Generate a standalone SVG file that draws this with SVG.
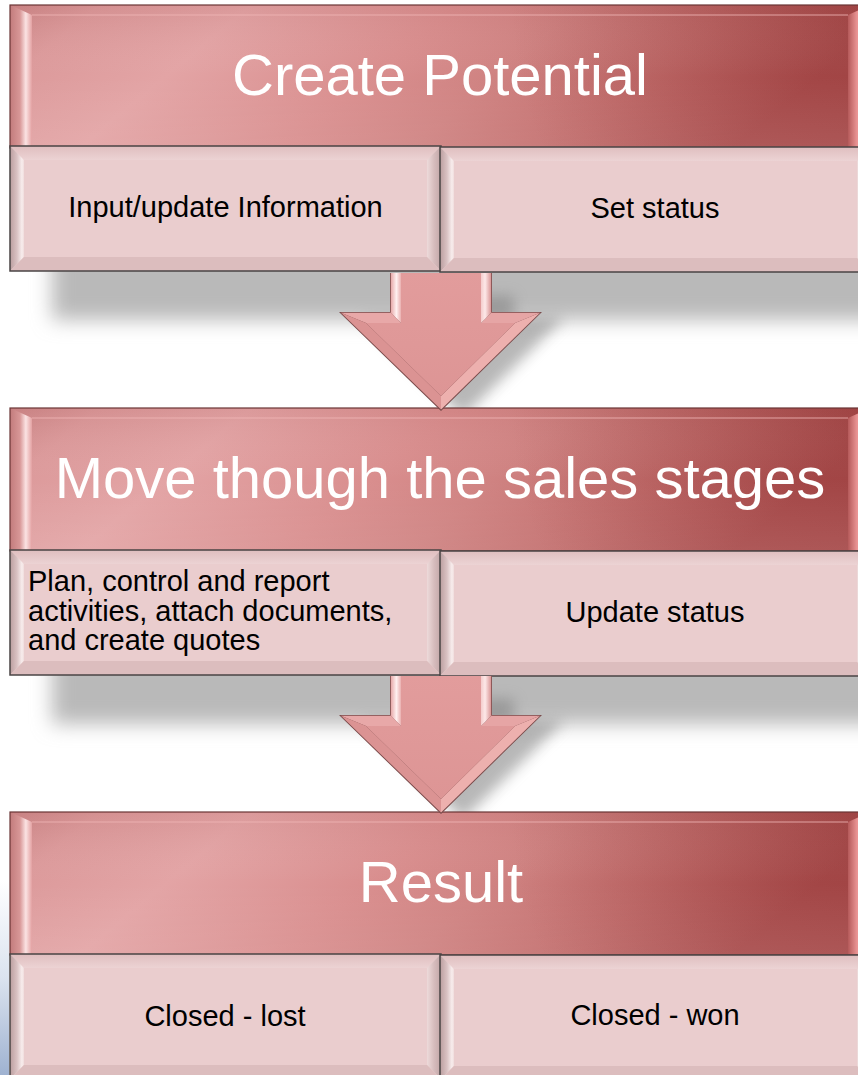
<svg xmlns="http://www.w3.org/2000/svg" width="858" height="1075" viewBox="0 0 858 1075">
<defs>
<style>
.hdr-text{font-family:"Liberation Sans",Arial,sans-serif;font-size:58px;fill:#ffffff;text-anchor:middle}
.sub-text{font-family:"Liberation Sans",Arial,sans-serif;font-size:29px;fill:#000000;text-anchor:middle}
.sub-left{text-anchor:start}
</style>
<linearGradient id="hdrGrad" x1="0" y1="0" x2="1" y2="0.2">
<stop offset="0" stop-color="#cf8a8b"/>
<stop offset="0.1" stop-color="#dc9a9b"/>
<stop offset="0.27" stop-color="#e3a4a5"/>
<stop offset="0.5" stop-color="#d98e8e"/>
<stop offset="0.64" stop-color="#cf8281"/>
<stop offset="0.82" stop-color="#c16b6a"/>
<stop offset="1" stop-color="#b05252"/>
</linearGradient>
<radialGradient id="hdrCorner" gradientUnits="userSpaceOnUse" cx="860" cy="0" r="360">
<stop offset="0" stop-color="#7e2424" stop-opacity="0.35"/>
<stop offset="1" stop-color="#7e2424" stop-opacity="0"/>
</radialGradient>
<linearGradient id="hdrShade" x1="0" y1="0" x2="0" y2="1">
<stop offset="0" stop-color="#7a1f1f" stop-opacity="0.08"/>
<stop offset="0.5" stop-color="#ffffff" stop-opacity="0"/>
<stop offset="1" stop-color="#ffffff" stop-opacity="0.08"/>
</linearGradient>
<linearGradient id="hdrLeft" x1="0" y1="0" x2="1" y2="0">
<stop offset="0" stop-color="#c27b7c"/>
<stop offset="0.45" stop-color="#d89797"/>
<stop offset="0.72" stop-color="#fbe3e3"/>
<stop offset="1" stop-color="#e3a1a2"/>
</linearGradient>
<linearGradient id="hdrRight" x1="0" y1="0" x2="1" y2="0">
<stop offset="0" stop-color="#b55a5a"/>
<stop offset="0.4" stop-color="#e89292"/>
<stop offset="0.8" stop-color="#f6a7a6"/>
<stop offset="1" stop-color="#d98282"/>
</linearGradient>
<linearGradient id="subTop" x1="0" y1="0" x2="0" y2="1">
<stop offset="0" stop-color="#dfbebf"/>
<stop offset="1" stop-color="#ecd3d4"/>
</linearGradient>
<linearGradient id="subLeft" x1="0" y1="0" x2="1" y2="0">
<stop offset="0" stop-color="#bb9e9f"/>
<stop offset="0.5" stop-color="#dac2c3"/>
<stop offset="0.85" stop-color="#f8eded"/>
<stop offset="1" stop-color="#efdcdc"/>
</linearGradient>
<linearGradient id="subRight" x1="0" y1="0" x2="1" y2="0">
<stop offset="0" stop-color="#eddada"/>
<stop offset="0.5" stop-color="#d6bcbd"/>
<stop offset="1" stop-color="#c2a6a7"/>
</linearGradient>
<linearGradient id="shaftL" x1="0" y1="0" x2="1" y2="0">
<stop offset="0" stop-color="#e7a7a7"/>
<stop offset="0.55" stop-color="#fff0f0"/>
<stop offset="1" stop-color="#eab0b0"/>
</linearGradient>
<linearGradient id="shaftR" x1="0" y1="0" x2="1" y2="0">
<stop offset="0" stop-color="#f4cccc"/>
<stop offset="0.4" stop-color="#fde8e8"/>
<stop offset="1" stop-color="#d99494"/>
</linearGradient>
<linearGradient id="arrowFace" x1="0" y1="0" x2="0" y2="1">
<stop offset="0" stop-color="#e29c9c"/>
<stop offset="1" stop-color="#dd9595"/>
</linearGradient>
<linearGradient id="blueEdge" x1="0" y1="0" x2="0" y2="1">
<stop offset="0" stop-color="#ffffff"/>
<stop offset="0.5" stop-color="#dbe3ef"/>
<stop offset="1" stop-color="#9fb2d1"/>
</linearGradient>
<filter id="blur" x="-10%" y="-60%" width="120%" height="220%">
<feGaussianBlur stdDeviation="10"/>
</filter>
<filter id="blurA" x="-30%" y="-30%" width="160%" height="160%">
<feGaussianBlur stdDeviation="7"/>
</filter>
<g id="hdrShape">
<rect x="0" y="0" width="860" height="143" fill="url(#hdrGrad)"/>
<rect x="0" y="0" width="860" height="143" fill="url(#hdrCorner)"/>
<rect x="0" y="0" width="860" height="143" fill="url(#hdrShade)"/>
<polygon points="0,0 22,10 22,143 0,143" fill="url(#hdrLeft)"/>
<polygon points="860,0 838,10 838,143 860,143" fill="url(#hdrRight)"/>
<line x1="22" y1="10" x2="838" y2="10" stroke="#f2b6b6" stroke-opacity="0.55" stroke-width="1.5"/>
<rect x="0" y="0" width="860" height="143" fill="none" stroke="#6a3535" stroke-width="1.2"/>
</g>
<g id="subShape">
<rect x="0" y="0" width="431" height="125" fill="#eacdce"/>
<polygon points="0,0 431,0 417,14 14,14" fill="url(#subTop)"/>
<polygon points="0,0 14,14 14,111 0,125" fill="url(#subLeft)"/>
<polygon points="431,0 417,14 417,111 431,125" fill="url(#subRight)"/>
<polygon points="0,125 14,111 417,111 431,125" fill="#dcbdbe"/>
<rect x="0" y="0" width="431" height="125" fill="none" stroke="#4a4444" stroke-width="1.5"/>
</g>
<g id="arrowShape">
<polygon points="390,273 492,273 492,312 542,312 441,411 339,312 390,312" fill="#7a4a4a"/>
<polygon points="390.8,273 401,273 401,323 390.8,312.8" fill="url(#shaftL)"/>
<polygon points="391,312.8 401,323 366,323 341,312.8" fill="#e8a8a8"/>
<polygon points="341,312.8 366,323 441,396 441,409.5" fill="#db9393"/>
<polygon points="441,409.5 441,396 515,323 540,312.8" fill="#edb0ae"/>
<polygon points="540,312.8 515,323 481,323 491.2,312.8" fill="#e6a5a5"/>
<polygon points="491.2,312.8 481,323 481,273 491.2,273" fill="url(#shaftR)"/>
<polygon points="401,273 481,273 481,323 515,323 441,396 366,323 401,323" fill="url(#arrowFace)"/>
</g>
<polygon id="arrowShadow" points="390,290 492,290 492,312 542,312 441,411 339,312 390,312" fill="#7d7d7d"/>
</defs>

<rect x="0" y="0" width="858" height="1075" fill="#ffffff"/>
<rect x="0" y="880" width="9" height="195" fill="url(#blueEdge)"/>

<g id="shadows">
<rect x="52" y="250" width="830" height="70" fill="#b9b9b9" filter="url(#blur)"/>
<use href="#arrowShadow" transform="translate(22,6)" opacity="0.55" filter="url(#blurA)"/>
<rect x="52" y="654" width="830" height="70" fill="#b9b9b9" filter="url(#blur)"/>
<use href="#arrowShadow" transform="translate(22,409)" opacity="0.55" filter="url(#blurA)"/>
</g>

<g id="node-create-potential">
<use href="#hdrShape" transform="translate(10,5)"/>
<text class="hdr-text" x="440" y="95">Create Potential</text>
</g>
<g id="node-input-update">
<use href="#subShape" transform="translate(10,146)"/>
<text class="sub-text" x="225.5" y="217">Input/update Information</text>
</g>
<g id="node-set-status">
<use href="#subShape" transform="translate(440,147)"/>
<text class="sub-text" x="655" y="218">Set status</text>
</g>

<g id="node-sales-stages">
<use href="#hdrShape" transform="translate(10,408)"/>
<text class="hdr-text" x="440" y="498">Move though the sales stages</text>
</g>
<g id="node-plan-control">
<use href="#subShape" transform="translate(10,550)"/>
<text class="sub-text sub-left" x="28" y="591">Plan, control and report</text>
<text class="sub-text sub-left" x="28" y="621">activities, attach documents,</text>
<text class="sub-text sub-left" x="28" y="650">and create quotes</text>
</g>
<g id="node-update-status">
<use href="#subShape" transform="translate(440,551)"/>
<text class="sub-text" x="655" y="622">Update status</text>
</g>

<g id="node-result">
<use href="#hdrShape" transform="translate(10,812)"/>
<text class="hdr-text" x="441" y="902">Result</text>
</g>
<g id="node-closed-lost">
<use href="#subShape" transform="translate(10,954)"/>
<text class="sub-text" x="225" y="1026">Closed - lost</text>
</g>
<g id="node-closed-won">
<use href="#subShape" transform="translate(440,955)"/>
<text class="sub-text" x="655" y="1025">Closed - won</text>
</g>

<g id="connectors">
<use href="#arrowShape"/>
<use href="#arrowShape" transform="translate(0,403)"/>
</g>
</svg>
